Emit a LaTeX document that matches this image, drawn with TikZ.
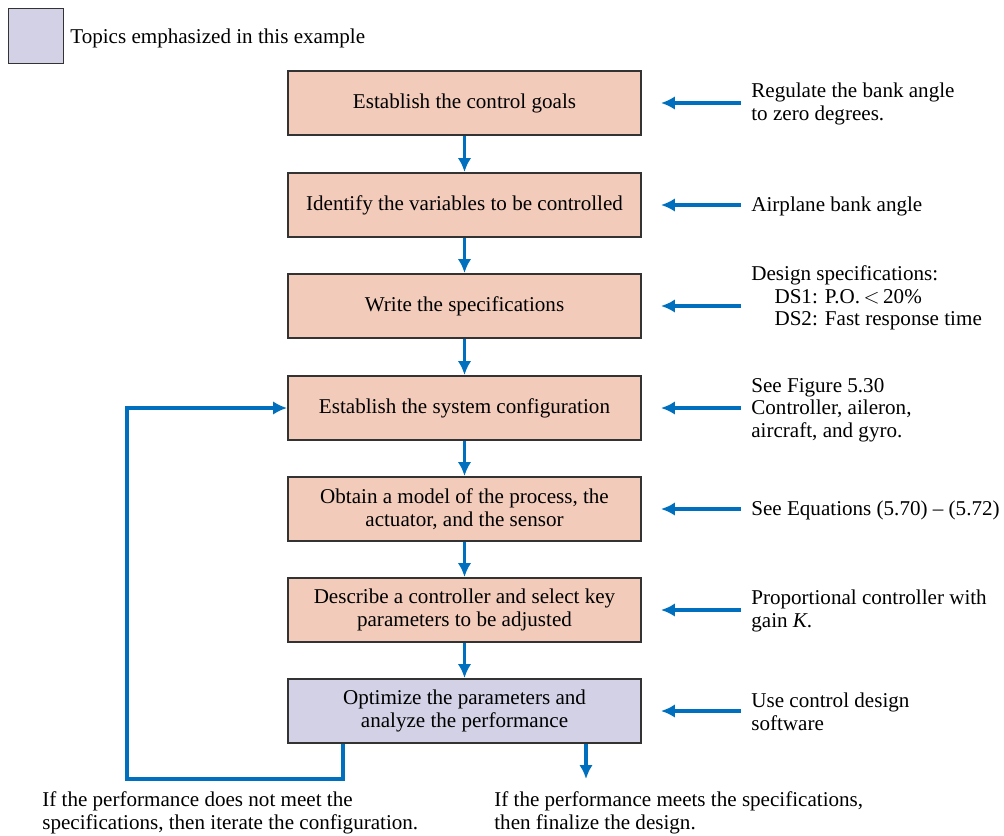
\documentclass[tikz,border=0pt]{standalone}
\usepackage{fontspec}
\setmainfont{Liberation Serif}
\usetikzlibrary{arrows.meta}
\definecolor{peach}{RGB}{242,203,186}
\definecolor{lavender}{RGB}{210,209,230}
\definecolor{flowblue}{RGB}{0,112,190}
\begin{document}
\begin{tikzpicture}[x=0.02cm, y=-0.02cm,
	font=\fontsize{12}{12.8}\selectfont,
	stepbox/.style={shape=rectangle, draw=black!80, line width=1.1pt, fill=peach, minimum width=7.06cm, minimum height=1.28cm, align=center, inner sep=2pt},
	focusbox/.style={stepbox, fill=lavender},
	note/.style={anchor=west, align=left, inner sep=0pt},
	flow/.style={draw=flowblue, line width=2.1pt, -{Latex[length=0.28cm, width=0.27cm]}}]
	\useasboundingbox (0,0) rectangle (1004,835);
	% Legend:
	\node[shape=rectangle, draw=black!80, line width=1.1pt, fill=lavender, minimum width=1.1cm, minimum height=1.1cm] (legend) at (36,36){};
	\node[note] (legendtext) at (70,38){Topics emphasized in this example};
	% Design steps:
	\node[stepbox] (goals) at (464.5,103){Establish the control goals};
	\node[stepbox] (vars) at (464.5,205){Identify the variables to be controlled};
	\node[stepbox] (specs) at (464.5,306){Write the specifications};
	\node[stepbox] (config) at (464.5,408){Establish the system configuration};
	\node[stepbox] (model) at (464.5,509){Obtain a model of the process, the\\actuator, and the sensor};
	\node[stepbox] (ctrl) at (464.5,610){Describe a controller and select key\\parameters to be adjusted};
	\node[focusbox] (optim) at (464.5,711){Optimize the parameters and\\analyze the performance};
	% Notes on the right:
	\node[note] (goalsnote) at (751,104){Regulate the bank angle\\to zero degrees.};
	\node[note] (varsnote) at (751,206){Airplane bank angle};
	\node[note] (specsnote) at (751,298){Design specifications:\\\hspace*{1.1em}DS1: P.O.\,$<$\,20\%\\\hspace*{1.1em}DS2: Fast response time};
	\node[note] (confignote) at (751,410){See Figure 5.30\\Controller, aileron,\\aircraft, and gyro.};
	\node[note] (modelnote) at (751,510){See Equations (5.70) -- (5.72)};
	\node[note] (ctrlnote) at (751,611){Proportional controller with\\gain \textit{K}.};
	\node[note] (optimnote) at (751,712){Use control design\\software};
	% Outcomes:
	\node[note] (iterate) at (42,813){If the performance does not meet the\\specifications, then iterate the configuration.};
	\node[note] (finalize) at (494,813){If the performance meets the specifications,\\then finalize the design.};
	% Arrows:
	\draw[flow] (goals) -- (vars);
	\draw[flow] (vars) -- (specs);
	\draw[flow] (specs) -- (config);
	\draw[flow] (config) -- (model);
	\draw[flow] (model) -- (ctrl);
	\draw[flow] (ctrl) -- (optim);
	\foreach \n in {goals, vars, specs, config, model, ctrl, optim}
		\draw[flow] ([xshift=1.98cm]\n.east) -- ([xshift=0.38cm]\n.east);
	\coordinate (loopA) at (343,779);
	\coordinate (loopB) at (127,779);
	\coordinate (done) at (586,779);
	\draw[flow] (loopA |- optim.south) -- (loopA) -- (loopB) |- (config.west);
	\draw[flow] (done |- optim.south) -- (done);
\end{tikzpicture}
\end{document}
